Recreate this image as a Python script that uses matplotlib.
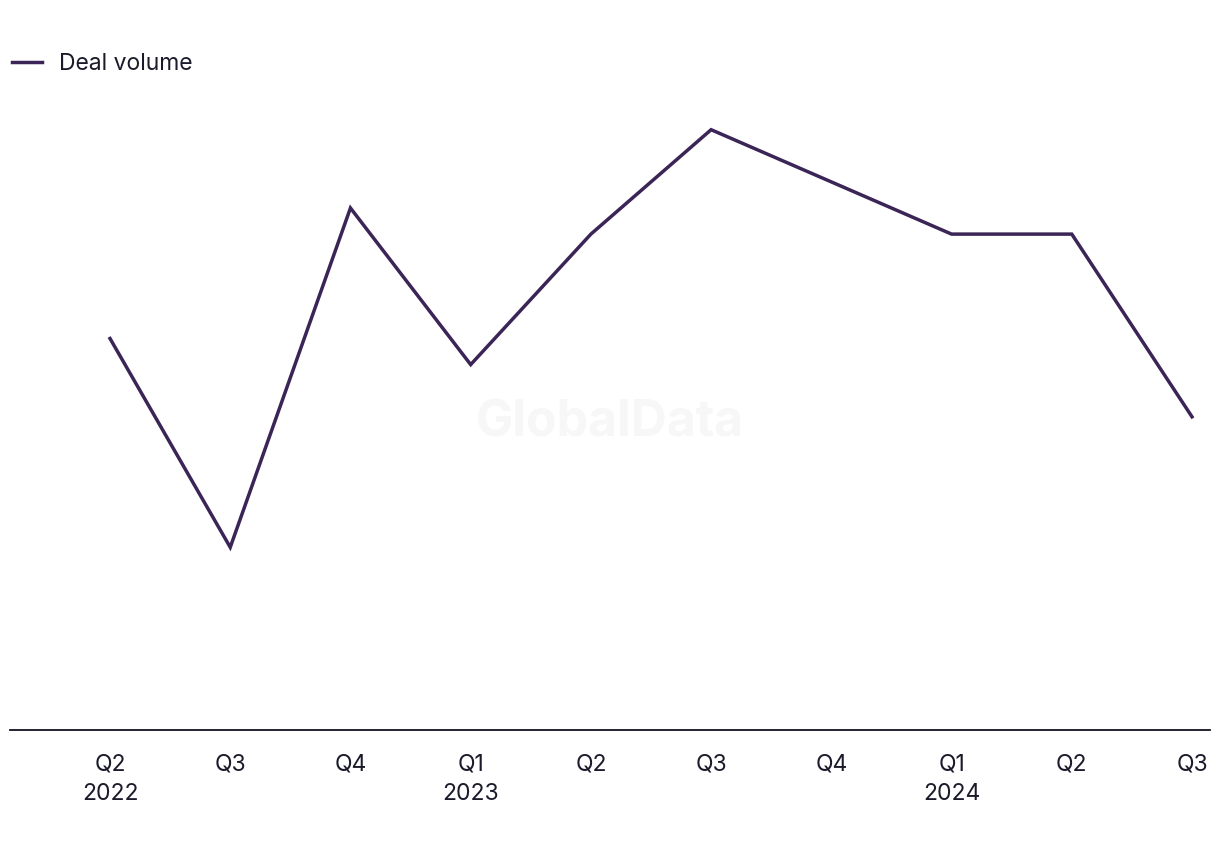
import matplotlib
matplotlib.use("Agg")
import matplotlib.pyplot as plt

quarters = ["Q2\n2022", "Q3", "Q4", "Q1\n2023", "Q2", "Q3", "Q4", "Q1\n2024", "Q2", "Q3"]
deal_volume = [15, 7, 20, 14, 19, 23, 21, 19, 19, 12]

plt.rcParams['font.family'] = ['Inter', 'DejaVu Sans']
line_color = "#3b2557"
text_color = "#1a1a2a"

fig = plt.figure(figsize=(12.2, 8.5), dpi=100)
ax = fig.add_axes([10/1220, 120/850, 1200/1220, 652.5/850])

x = list(range(len(quarters)))
ax.plot(x, deal_volume, color=line_color, linewidth=2.5, label="Deal volume",
        solid_joinstyle="miter")

ax.set_xlim(-100/120.2, 9 + 18/120.2)
ax.set_ylim(0, 25)
ax.set_xticks(x)
ax.set_xticklabels(quarters, fontsize=16.5, color=text_color, linespacing=1.45)
ax.tick_params(axis='x', length=0, pad=17)
ax.set_yticks([])
for s in ["top", "right", "left"]:
    ax.spines[s].set_visible(False)
ax.spines["bottom"].set_color("#111122")
ax.spines["bottom"].set_linewidth(1.3)

fig.text(0.5, 427/850, "GlobalData", ha="center", va="center", fontsize=36,
         fontweight="bold", color="#f7f7f7", zorder=0)

leg = fig.legend(loc="upper left", bbox_to_anchor=(3/1220, 1 - 44/850), frameon=False,
                 fontsize=16.5, handlelength=1.3, handletextpad=0.75, borderaxespad=0)
for t in leg.get_texts():
    t.set_color(text_color)

fig.savefig("out.png", dpi=100)
